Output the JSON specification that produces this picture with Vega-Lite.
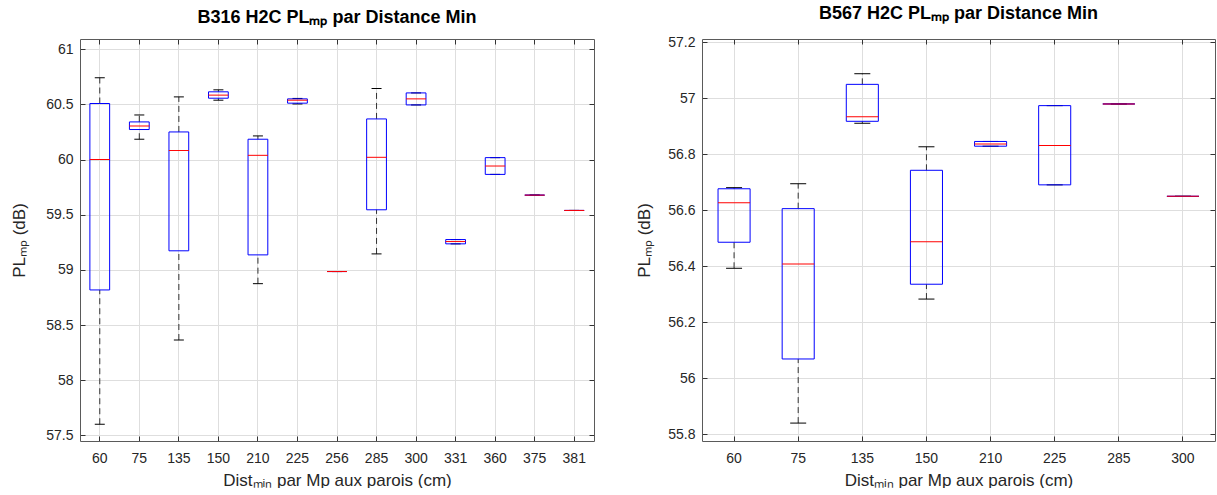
{
  "$schema": "https://vega.github.io/schema/vega-lite/v6.json",
  "padding": {"left": 10, "right": 2, "top": 5, "bottom": 0},
  "spacing": 40,
  "config": {
    "font": "Liberation Sans",
    "view": {"stroke": null},
    "axis": {
      "gridColor": "#dedede",
      "gridWidth": 1,
      "domainColor": "#5a5a5a",
      "tickColor": "#333333",
      "tickSize": -5,
      "labelColor": "#262626",
      "labelFontSize": 14,
      "titleColor": "#262626",
      "titleFontSize": 17,
      "titleFontWeight": "normal"
    },
    "title": {"fontSize": 18, "fontWeight": "bold", "color": "#000000", "frame": "group", "anchor": "middle", "offset": 12}
  },
  "datasets": {
    "b316": [
      {"dist": "60", "lo": 57.60, "q1": 58.818, "med": 60.0, "q3": 60.509, "hi": 60.742},
      {"dist": "75", "lo": 60.185, "q1": 60.273, "med": 60.305, "q3": 60.342, "hi": 60.405},
      {"dist": "135", "lo": 58.364, "q1": 59.173, "med": 60.083, "q3": 60.251, "hi": 60.569},
      {"dist": "150", "lo": 60.539, "q1": 60.557, "med": 60.585, "q3": 60.615, "hi": 60.633},
      {"dist": "210", "lo": 58.875, "q1": 59.136, "med": 60.039, "q3": 60.185, "hi": 60.215},
      {"dist": "225", "lo": 60.505, "q1": 60.512, "med": 60.539, "q3": 60.551, "hi": 60.555},
      {"dist": "256", "lo": 58.985, "q1": 58.985, "med": 58.985, "q3": 58.985, "hi": 58.985},
      {"dist": "285", "lo": 59.145, "q1": 59.545, "med": 60.021, "q3": 60.369, "hi": 60.645},
      {"dist": "300", "lo": 60.496, "q1": 60.496, "med": 60.551, "q3": 60.605, "hi": 60.605},
      {"dist": "331", "lo": 59.236, "q1": 59.236, "med": 59.257, "q3": 59.275, "hi": 59.275},
      {"dist": "360", "lo": 59.866, "q1": 59.866, "med": 59.942, "q3": 60.018, "hi": 60.018},
      {"dist": "375", "lo": 59.678, "q1": 59.678, "med": 59.678, "q3": 59.678, "hi": 59.678},
      {"dist": "381", "lo": 59.539, "q1": 59.539, "med": 59.539, "q3": 59.539, "hi": 59.539}
    ],
    "b567": [
      {"dist": "60", "lo": 56.393, "q1": 56.486, "med": 56.627, "q3": 56.677, "hi": 56.681},
      {"dist": "75", "lo": 55.840, "q1": 56.069, "med": 56.408, "q3": 56.606, "hi": 56.695},
      {"dist": "135", "lo": 56.911, "q1": 56.918, "med": 56.934, "q3": 57.050, "hi": 57.088},
      {"dist": "150", "lo": 56.283, "q1": 56.336, "med": 56.488, "q3": 56.743, "hi": 56.827},
      {"dist": "210", "lo": 56.829, "q1": 56.829, "med": 56.837, "q3": 56.846, "hi": 56.846},
      {"dist": "225", "lo": 56.691, "q1": 56.691, "med": 56.832, "q3": 56.974, "hi": 56.974},
      {"dist": "285", "lo": 56.980, "q1": 56.980, "med": 56.980, "q3": 56.980, "hi": 56.980},
      {"dist": "300", "lo": 56.650, "q1": 56.650, "med": 56.650, "q3": 56.650, "hi": 56.650}
    ]
  },
  "hconcat": [
    {
      "width": 514,
      "height": 402,
      "title": "B316 H2C PLₘₚ par Distance Min",
      "data": {"name": "b316"},
      "resolve": {"axis": {"x": "independent", "y": "independent"}},
      "layer": [
        {
          "encoding": {
            "x": {"field": "dist", "type": "ordinal", "sort": null,
              "scale": {"paddingInner": 0, "paddingOuter": 0},
              "axis": {"title": "Distₘᵢₙ par Mp aux parois (cm)", "labelAngle": 0, "grid": true, "bandPosition": 0.5, "labelPadding": 15, "titlePadding": 7}}
          },
          "layer": [
            {
              "mark": {"type": "rule", "stroke": "#333333", "strokeDash": [6, 4], "strokeWidth": 1},
              "encoding": {
                "y": {"field": "q3", "type": "quantitative",
                  "scale": {"domain": [57.448, 61.094], "nice": false, "zero": false},
                  "axis": {"title": "PLₘₚ (dB)", "values": [57.5, 58, 58.5, 59, 59.5, 60, 60.5, 61], "format": "~g", "grid": true, "labelPadding": 12, "titlePadding": 17}},
                "y2": {"field": "hi"}
              }
            },
            {
              "mark": {"type": "rule", "stroke": "#333333", "strokeDash": [6, 4], "strokeWidth": 1},
              "encoding": {"y": {"field": "lo", "type": "quantitative"}, "y2": {"field": "q1"}}
            },
            {
              "mark": {"type": "tick", "color": "#000000", "size": 10, "thickness": 1, "opacity": 1},
              "encoding": {"y": {"field": "hi", "type": "quantitative"}}
            },
            {
              "mark": {"type": "tick", "color": "#000000", "size": 10, "thickness": 1, "opacity": 1},
              "encoding": {"y": {"field": "lo", "type": "quantitative"}}
            },
            {
              "mark": {"type": "bar", "fill": "transparent", "stroke": "#0000ff", "strokeWidth": 1, "width": {"band": 0.5}},
              "encoding": {"y": {"field": "q3", "type": "quantitative"}, "y2": {"field": "q1"}}
            },
            {
              "mark": {"type": "tick", "color": "#ff0000", "size": 20, "thickness": 1, "opacity": 1},
              "encoding": {"y": {"field": "med", "type": "quantitative"}}
            }
          ]
        },
        {
          "mark": {"type": "tick", "opacity": 0},
          "encoding": {
            "x": {"field": "dist", "type": "ordinal", "sort": null,
              "axis": {"orient": "top", "labels": false, "title": null, "grid": false, "bandPosition": 0.5}},
            "y": {"field": "med", "type": "quantitative",
              "axis": {"orient": "right", "labels": false, "title": null, "grid": false, "values": [57.5, 58, 58.5, 59, 59.5, 60, 60.5, 61]}}
          }
        }
      ]
    },
    {
      "width": 513,
      "height": 402,
      "title": "B567 H2C PLₘₚ par Distance Min",
      "data": {"name": "b567"},
      "resolve": {"axis": {"x": "independent", "y": "independent"}},
      "layer": [
        {
          "encoding": {
            "x": {"field": "dist", "type": "ordinal", "sort": null,
              "scale": {"paddingInner": 0, "paddingOuter": 0},
              "axis": {"title": "Distₘᵢₙ par Mp aux parois (cm)", "labelAngle": 0, "grid": true, "bandPosition": 0.5, "labelPadding": 15, "titlePadding": 7}}
          },
          "layer": [
            {
              "mark": {"type": "rule", "stroke": "#333333", "strokeDash": [6, 4], "strokeWidth": 1},
              "encoding": {
                "y": {"field": "q3", "type": "quantitative",
                  "scale": {"domain": [55.776, 57.212], "nice": false, "zero": false},
                  "axis": {"title": "PLₘₚ (dB)", "values": [55.8, 56, 56.2, 56.4, 56.6, 56.8, 57, 57.2], "format": "~g", "grid": true, "labelPadding": 12, "titlePadding": 14}},
                "y2": {"field": "hi"}
              }
            },
            {
              "mark": {"type": "rule", "stroke": "#333333", "strokeDash": [6, 4], "strokeWidth": 1},
              "encoding": {"y": {"field": "lo", "type": "quantitative"}, "y2": {"field": "q1"}}
            },
            {
              "mark": {"type": "tick", "color": "#000000", "size": 16, "thickness": 1, "opacity": 1},
              "encoding": {"y": {"field": "hi", "type": "quantitative"}}
            },
            {
              "mark": {"type": "tick", "color": "#000000", "size": 16, "thickness": 1, "opacity": 1},
              "encoding": {"y": {"field": "lo", "type": "quantitative"}}
            },
            {
              "mark": {"type": "bar", "fill": "transparent", "stroke": "#0000ff", "strokeWidth": 1, "width": {"band": 0.5}},
              "encoding": {"y": {"field": "q3", "type": "quantitative"}, "y2": {"field": "q1"}}
            },
            {
              "mark": {"type": "tick", "color": "#ff0000", "size": 32, "thickness": 1, "opacity": 1},
              "encoding": {"y": {"field": "med", "type": "quantitative"}}
            }
          ]
        },
        {
          "mark": {"type": "tick", "opacity": 0},
          "encoding": {
            "x": {"field": "dist", "type": "ordinal", "sort": null,
              "axis": {"orient": "top", "labels": false, "title": null, "grid": false, "bandPosition": 0.5}},
            "y": {"field": "med", "type": "quantitative",
              "axis": {"orient": "right", "labels": false, "title": null, "grid": false, "values": [55.8, 56, 56.2, 56.4, 56.6, 56.8, 57, 57.2]}}
          }
        }
      ]
    }
  ]
}
